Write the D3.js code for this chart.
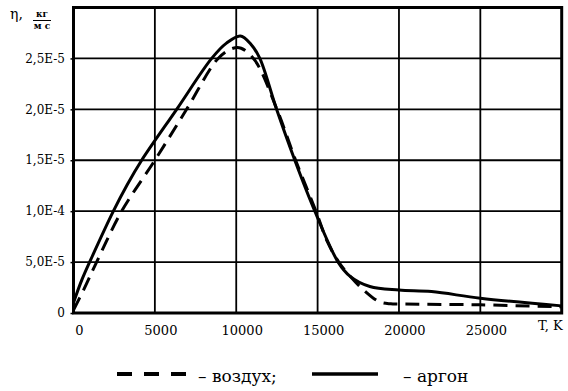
<!DOCTYPE html>
<html>
<head>
<meta charset="utf-8">
<script src="https://cdn.jsdelivr.net/npm/d3@7"></script>
<style>
  body { margin: 0; background: #fff; }
</style>
</head>
<body>
<div id="chart"></div>
<script>
// data (T in K, eta in units of 1E-5)
const argonT = [0, 500, 1220, 2450, 3300, 4190, 6340, 8490, 9400, 10250, 10900, 11450, 12480, 13600, 14830, 16260, 17000, 18210, 20000, 22000, 25000, 30000]
const argonEta = [0.1, 0.32, 0.58, 1.0, 1.26, 1.5, 2.0, 2.5, 2.65, 2.72, 2.64, 2.5, 2.0, 1.5, 1.0, 0.5, 0.36, 0.26, 0.225, 0.21, 0.145, 0.07]
const airT = [0, 600, 1420, 2960, 5000, 6950, 8890, 9800, 10300, 11150, 12500, 13650, 14900, 15600, 16300, 17000, 17800, 18800, 19500, 20000, 25000, 30000]
const airEta = [0.03, 0.22, 0.5, 1.0, 1.5, 2.0, 2.5, 2.6, 2.6, 2.48, 2.0, 1.5, 1.0, 0.7, 0.5, 0.36, 0.23, 0.11, 0.09, 0.088, 0.08, 0.06]

const xTicks = [0, 5000, 10000, 15000, 20000, 25000]
const xGrid = [5000, 10000, 15000, 20000, 25000]
const yTicks = [0, 0.5, 1, 1.5, 2, 2.5]
const yLabels = ["0", "5,0E-5", "1,0E-4", "1,5E-5", "2,0E-5", "2,5E-5"]

const FONT = "DejaVu Serif"
const MARGIN = { LEFT: 73.5, TOP: 7.5 }
const WIDTH = 561.7 - MARGIN.LEFT
const HEIGHT = 313 - MARGIN.TOP

const svg = d3.select("#chart").append("svg")
  .attr("width", 568)
  .attr("height", 391)
  .style("font-family", FONT)

const g = svg.append("g")
  .attr("transform", `translate(${MARGIN.LEFT}, ${MARGIN.TOP})`)

const x = d3.scaleLinear().domain([0, 30000]).range([0, WIDTH])
const y = d3.scaleLinear().domain([0, 3]).range([HEIGHT, 0])

// small outer ticks on the left
const yAxis = g.append("g")
  .call(d3.axisLeft(y).tickValues(yTicks).tickSize(3).tickFormat(""))
yAxis.select(".domain").remove()
yAxis.selectAll(".tick line").attr("stroke", "#000").attr("stroke-width", 1.5)

// grid
g.append("g").selectAll("line")
  .data(yTicks.slice(1))
  .join("line")
  .attr("x1", 0).attr("x2", WIDTH)
  .attr("y1", d => y(d)).attr("y2", d => y(d))
  .attr("stroke", "#000").attr("stroke-width", 1.8)

g.append("g").selectAll("line")
  .data(xGrid)
  .join("line")
  .attr("x1", d => x(d)).attr("x2", d => x(d))
  .attr("y1", 0).attr("y2", HEIGHT)
  .attr("stroke", "#000").attr("stroke-width", 1.8)

// frame
g.append("rect")
  .attr("width", WIDTH).attr("height", HEIGHT)
  .attr("fill", "none").attr("stroke", "#000").attr("stroke-width", 3)

// tick labels
g.append("g").selectAll("text")
  .data(yTicks)
  .join("text")
  .attr("x", 65 - MARGIN.LEFT)
  .attr("y", d => y(d))
  .attr("dy", "0.35em")
  .attr("text-anchor", "end")
  .style("font-family", FONT)
  .attr("font-size", "12px")
  .text((d, i) => yLabels[i])

g.append("g").selectAll("text")
  .data(xTicks)
  .join("text")
  .attr("x", d => x(d) + 6)
  .attr("y", 335 - MARGIN.TOP)
  .attr("text-anchor", "middle")
  .style("font-family", FONT)
  .attr("font-size", "13px")
  .text(d => d)

svg.append("text")
  .attr("x", 538).attr("y", 330)
  .style("font-family", FONT)
  .attr("font-size", "13px")
  .text("T, K")

// y title: eta, kg/(m s)
svg.append("text")
  .attr("x", 10).attr("y", 19)
  .style("font-family", FONT)
  .attr("font-size", "14px")
  .text("η,")
svg.append("text")
  .attr("x", 42).attr("y", 17)
  .attr("text-anchor", "middle")
  .style("font-family", FONT)
  .attr("font-size", "9px")
  .attr("font-weight", "bold")
  .text("кг")
svg.append("line")
  .attr("x1", 33).attr("x2", 51)
  .attr("y1", 20.5).attr("y2", 20.5)
  .attr("stroke", "#000").attr("stroke-width", 1)
svg.append("text")
  .attr("x", 42).attr("y", 28.5)
  .attr("text-anchor", "middle")
  .style("font-family", FONT)
  .attr("font-size", "9px")
  .attr("font-weight", "bold")
  .text("м с")

// curves
const line = d3.line()
  .x(d => x(d[0]))
  .y(d => y(d[1]))
  .curve(d3.curveCatmullRom.alpha(0.5))

g.append("path")
  .attr("d", line(airT.map((t, i) => [t, airEta[i]])))
  .attr("fill", "none")
  .attr("stroke", "#000")
  .attr("stroke-width", 3)
  .attr("stroke-dasharray", "14,8")

g.append("path")
  .attr("d", line(argonT.map((t, i) => [t, argonEta[i]])))
  .attr("fill", "none")
  .attr("stroke", "#000")
  .attr("stroke-width", 3)

// legend
const legend = svg.append("g")
legend.append("line")
  .attr("x1", 117).attr("x2", 187)
  .attr("y1", 374).attr("y2", 374)
  .attr("stroke", "#000").attr("stroke-width", 4)
  .attr("stroke-dasharray", "15,12")
legend.append("text")
  .attr("x", 198).attr("y", 381.5)
  .style("font-family", FONT)
  .attr("font-size", "17px")
  .text("– воздух;")
legend.append("line")
  .attr("x1", 312).attr("x2", 378)
  .attr("y1", 374).attr("y2", 374)
  .attr("stroke", "#000").attr("stroke-width", 3.5)
legend.append("text")
  .attr("x", 403).attr("y", 381.5)
  .style("font-family", FONT)
  .attr("font-size", "17px")
  .text("– аргон")
</script>
</body>
</html>
